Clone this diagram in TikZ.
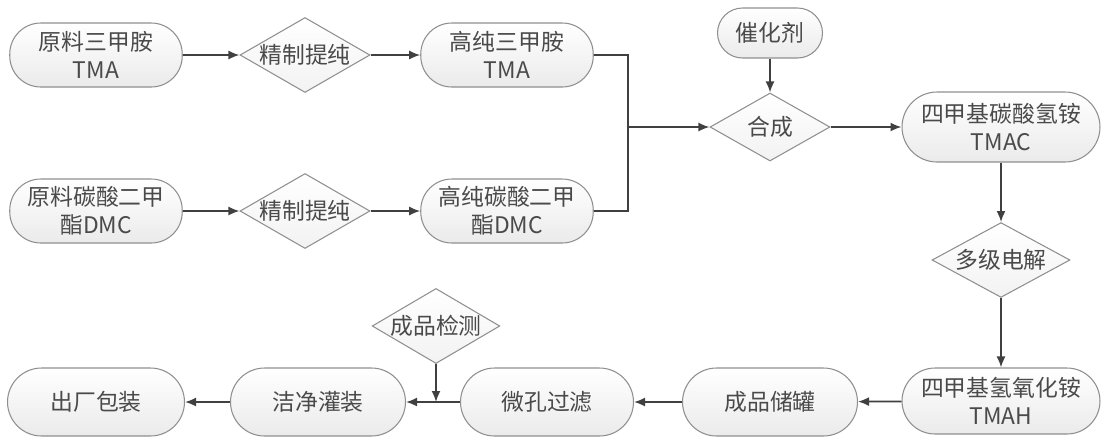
\documentclass[tikz,border=0pt]{standalone}
\usepackage{fontspec}
\setmainfont{Noto Sans CJK SC}
\usetikzlibrary{shapes.geometric,arrows.meta}
\definecolor{linegray}{HTML}{404040}
\definecolor{bordergray}{HTML}{8F8F8F}
\definecolor{textgray}{HTML}{4A4A4A}

\begin{document}
\begin{tikzpicture}[x=0.02cm,y=-0.02cm,
  every node/.style={font=\fontsize{13}{16}\selectfont,text=textgray,align=center},
  proc/.style={draw=bordergray,line width=0.6pt,rounded corners=0.62cm,top color=white,bottom color=gray!16,minimum width=3.45cm,minimum height=1.28cm,inner sep=1pt},
  dec/.style={diamond,draw=bordergray,line width=0.6pt,top color=white,bottom color=gray!10,aspect=1.7,inner sep=0pt},
  arr/.style={draw=linegray,line width=1pt,-{Latex[length=2.2mm,width=1.8mm]}},
  conn/.style={draw=linegray,line width=1pt}]
\useasboundingbox (0,0) rectangle (1109,441);
% top rows
\node[proc] (rawtma) at (96,55) {原料三甲胺\\TMA};
\node[dec,minimum width=2.6cm,minimum height=1.5cm] (purtma) at (305,55) {精制提纯};
\node[proc] (hptma) at (507,55) {高纯三甲胺\\TMA};
\node[proc] (rawdmc) at (96,211) {原料碳酸二甲\\酯DMC};
\node[dec,minimum width=2.6cm,minimum height=1.5cm] (purdmc) at (305,211) {精制提纯};
\node[proc] (hpdmc) at (507,211) {高纯碳酸二甲\\酯DMC};
% synthesis
\node[proc,minimum width=2.1cm,minimum height=1.0cm,rounded corners=0.5cm] (cat) at (770,33) {催化剂};
\node[dec,minimum width=2.4cm,minimum height=1.36cm] (syn) at (770,127) {合成};
\node[proc,minimum width=3.96cm,minimum height=1.4cm,rounded corners=0.7cm] (tmac) at (1001,127) {四甲基碳酸氢铵\\TMAC};
\node[dec,minimum width=2.76cm,minimum height=1.48cm] (elec) at (1001,260) {多级电解};
% bottom row
\node[proc,minimum width=3.96cm,minimum height=1.32cm,rounded corners=0.66cm] (tmah) at (1001,401) {四甲基氢氧化铵\\TMAH};
\node[proc,minimum width=3.5cm,minimum height=1.36cm,rounded corners=0.68cm] (tank) at (770,402) {成品储罐};
\node[proc,minimum width=3.46cm,minimum height=1.36cm,rounded corners=0.68cm] (filt) at (547,402) {微孔过滤};
\node[proc,minimum width=3.5cm,minimum height=1.36cm,rounded corners=0.68cm] (fill) at (318,402) {洁净灌装};
\node[proc,minimum width=3.54cm,minimum height=1.36cm,rounded corners=0.68cm] (pack) at (96,402) {出厂包装};
\node[dec,minimum width=2.44cm,minimum height=1.3cm] (test) at (436,326) {成品检测};
\coordinate (join) at (628,127);
\coordinate (chk) at (436,402);
\draw[arr] (rawtma) -- (purtma);
\draw[arr] (purtma) -- (hptma);
\draw[arr] (rawdmc) -- (purdmc);
\draw[arr] (purdmc) -- (hpdmc);
\draw[conn] (hptma.east) -| (join);
\draw[conn] (hpdmc.east) -| (join);
\draw[arr] (join) -- (syn);
\draw[arr] (cat) -- (syn);
\draw[arr] (syn) -- (tmac);
\draw[arr] (tmac) -- (elec);
\draw[arr] (elec) -- (tmah);
\draw[arr] (tmah) -- (tank);
\draw[arr] (tank) -- (filt);
\draw[arr] (filt) -- (fill);
\draw[arr] (fill) -- (pack);
\draw[arr] (test) -- (chk);
\end{tikzpicture}
\end{document}
